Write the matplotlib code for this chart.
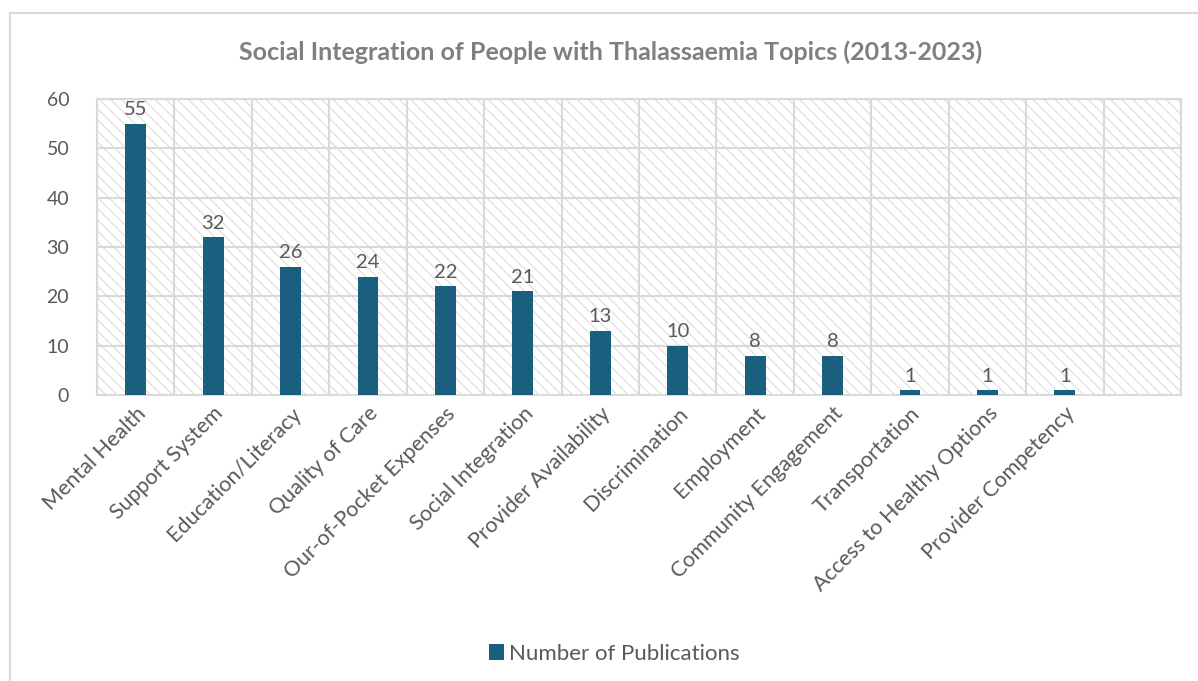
import matplotlib
matplotlib.use("Agg")
import matplotlib.pyplot as plt
from matplotlib.patches import Rectangle, Patch
from matplotlib.lines import Line2D
import numpy as np

# Topics and publication counts (the trailing blank slot keeps an empty column)
topics = [
    "Mental Health", "Support System", "Education/Literacy", "Quality of Care",
    "Our-of-Pocket Expenses", "Social Integration", "Provider Availability",
    "Discrimination", "Employment", "Community Engagement", "Transportation",
    "Access to Healthy Options", "Provider Competency", "",
]
publications = [55, 32, 26, 24, 22, 21, 13, 10, 8, 8, 1, 1, 1]
y_ticks = [0, 10, 20, 30, 40, 50, 60]

title = "Social Integration of People with Thalassaemia Topics (2013-2023)"
series_name = "Number of Publications"

BAR = "#1a5e80"
TEXT = "#595959"
GRID = "#d9d9d9"
HATCH = "#dcdcdc"

plt.rcParams["font.family"] = ["Lato", "DejaVu Sans"]
plt.rcParams["hatch.linewidth"] = 0.8

fig = plt.figure(figsize=(11.98, 6.81), dpi=100)
W, H = 1198, 681
ax = fig.add_axes([97 / W, 1 - 395 / H, (1181 - 97) / W, (395 - 99) / H])

# hatched plot-area background
ax.add_patch(Rectangle((0, 0), 1, 1, transform=ax.transAxes, facecolor="white",
                       edgecolor=HATCH, linewidth=0, hatch="\\\\\\", zorder=0))

x = np.arange(len(publications))
bars = ax.bar(x, publications, width=0.27, color=BAR, zorder=3)
for xi, v in zip(x, publications):
    ax.annotate(str(v), (xi, v), xytext=(0, 4), textcoords="offset points",
                ha="center", va="bottom", fontsize=14.5, color=TEXT, zorder=4)

ax.set_xlim(-0.5, len(topics) - 0.5)
ax.set_ylim(0, 60)
ax.set_yticks(y_ticks)
ax.set_xticks(np.arange(len(topics)))
ax.set_xticklabels(topics, rotation=45, ha="right", rotation_mode="anchor",
                   fontsize=15.5, color=TEXT)
ax.set_xticks(np.arange(len(topics) + 1) - 0.5, minor=True)
ax.tick_params(axis="y", length=0, pad=20, labelsize=14, labelcolor=TEXT)
ax.tick_params(axis="x", which="major", length=0, pad=6)
ax.tick_params(axis="x", which="minor", length=0)

ax.grid(axis="y", color=GRID, linewidth=1.5, zorder=1)
ax.grid(axis="x", which="minor", color=GRID, linewidth=1.5, zorder=1)
ax.grid(axis="x", which="major", visible=False)
ax.set_axisbelow(True)
for s in ax.spines.values():
    s.set_color(GRID)
    s.set_linewidth(1.5)

fig.text(611 / W, 1 - 52 / H, title, ha="center", va="center",
         fontsize=18, fontweight="bold", color="#7f7f7f")

handle = Patch(facecolor=BAR, edgecolor="none")
fig.legend([handle], [series_name], loc="center",
           bbox_to_anchor=(614 / W, 1 - 654 / H), frameon=False,
           fontsize=16, handlelength=0.7, handleheight=0.7,
           handletextpad=0.2, labelcolor=TEXT)

# chart border (top and left edges)
fig.add_artist(Line2D([10 / W, 1.0], [1 - 13 / H, 1 - 13 / H],
                      transform=fig.transFigure, color=GRID, linewidth=1.5))
fig.add_artist(Line2D([10 / W, 10 / W], [0, 1 - 13 / H],
                      transform=fig.transFigure, color=GRID, linewidth=1.5))

fig.savefig("out.png", dpi=100)
